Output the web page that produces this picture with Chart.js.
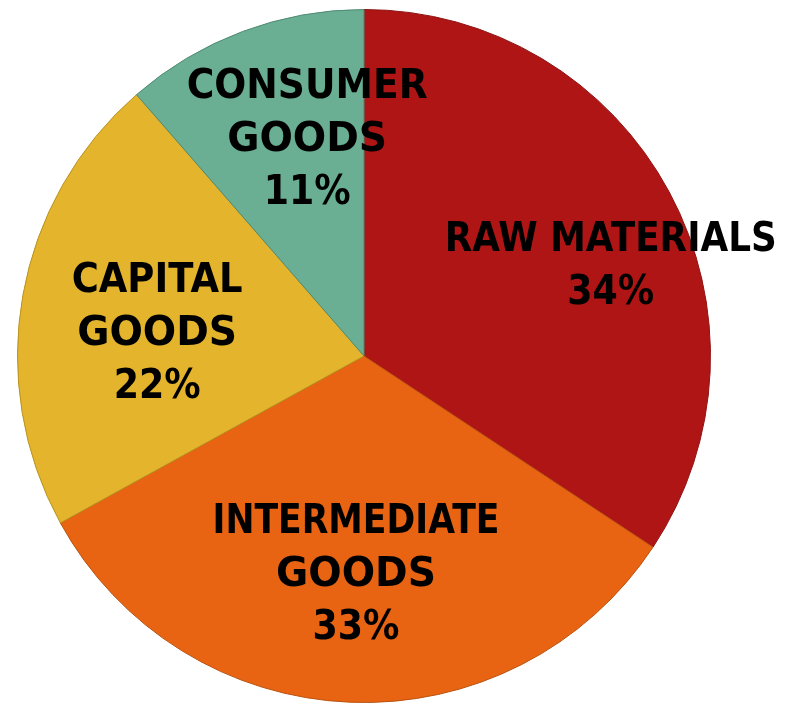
<!DOCTYPE html>
<html>
<head>
<meta charset="utf-8">
<script src="https://cdn.jsdelivr.net/npm/chart.js@4"></script>
<style>
  html, body { margin: 0; padding: 0; background: #fff; }
  #wrap { width: 785px; height: 705px; }
</style>
</head>
<body>
<div id="wrap"><canvas id="pieChart" width="785" height="705"></canvas></div>
<script>
// data (slice angles), labels show the rounded share
const categories = ['RAW MATERIALS', 'INTERMEDIATE GOODS', 'CAPITAL GOODS', 'CONSUMER GOODS'];
const shares = [34.3, 32.7, 21.6, 11.4];
const fillColors = ['#B01515', '#E86413', '#E4B52C', '#6AAF93'];
const edgeColors = ['#8C1212', '#B9520F', '#B8921F', '#4F8A72'];

// how each label is split into lines, and where it sits (fraction of radius from centre)
const labelLines = [
    ['RAW MATERIALS'],
    ['INTERMEDIATE', 'GOODS'],
    ['CAPITAL', 'GOODS'],
    ['CONSUMER', 'GOODS']
];
const labelSpots = [
    [0.712, -0.256],
    [-0.023, 0.634],
    [-0.597, -0.061],
    [-0.164, -0.622]
];
// rendered width of each word in the original (Century Gothic look-alike)
const wordWidths = {
    'RAW MATERIALS': 332, 'INTERMEDIATE': 287, 'CAPITAL': 171,
    'CONSUMER': 241, 'GOODS': 160
};

const pieLabels = {
    id: 'pieLabels',
    afterDatasetsDraw(chart) {
        const c = chart.ctx;
        const meta = chart.getDatasetMeta(0);
        c.save();
        c.fillStyle = '#000';
        c.textAlign = 'center';
        c.textBaseline = 'middle';
        c.font = 'bold 40px "DejaVu Sans", sans-serif';
        meta.data.forEach((arc, i) => {
            const r = arc.outerRadius;
            const cx = arc.x + labelSpots[i][0] * r;
            const cy = arc.y + labelSpots[i][1] * r;
            const lines = labelLines[i].concat([Math.round(shares[i]) + '%']);
            const step = 53;
            const y0 = cy - (lines.length - 1) * step / 2;
            lines.forEach((t, k) => {
                const want = wordWidths[t] || 87;
                const got = c.measureText(t).width;
                c.save();
                c.translate(cx, y0 + k * step);
                c.scale(want / got, 1);
                c.fillText(t, 0, 0);
                c.restore();
            });
        });
        c.restore();
    }
};

new Chart(document.getElementById('pieChart'), {
    type: 'pie',
    data: {
        labels: categories,
        datasets: [{
            data: shares,
            backgroundColor: fillColors,
            borderColor: edgeColors,
            borderWidth: 1
        }]
    },
    options: {
        responsive: false,
        animation: false,
        layout: { padding: { left: 17, right: 74, top: 9, bottom: 2 } },
        plugins: {
            legend: { display: false },
            tooltip: { enabled: false }
        }
    },
    plugins: [pieLabels]
});
</script>
</body>
</html>
